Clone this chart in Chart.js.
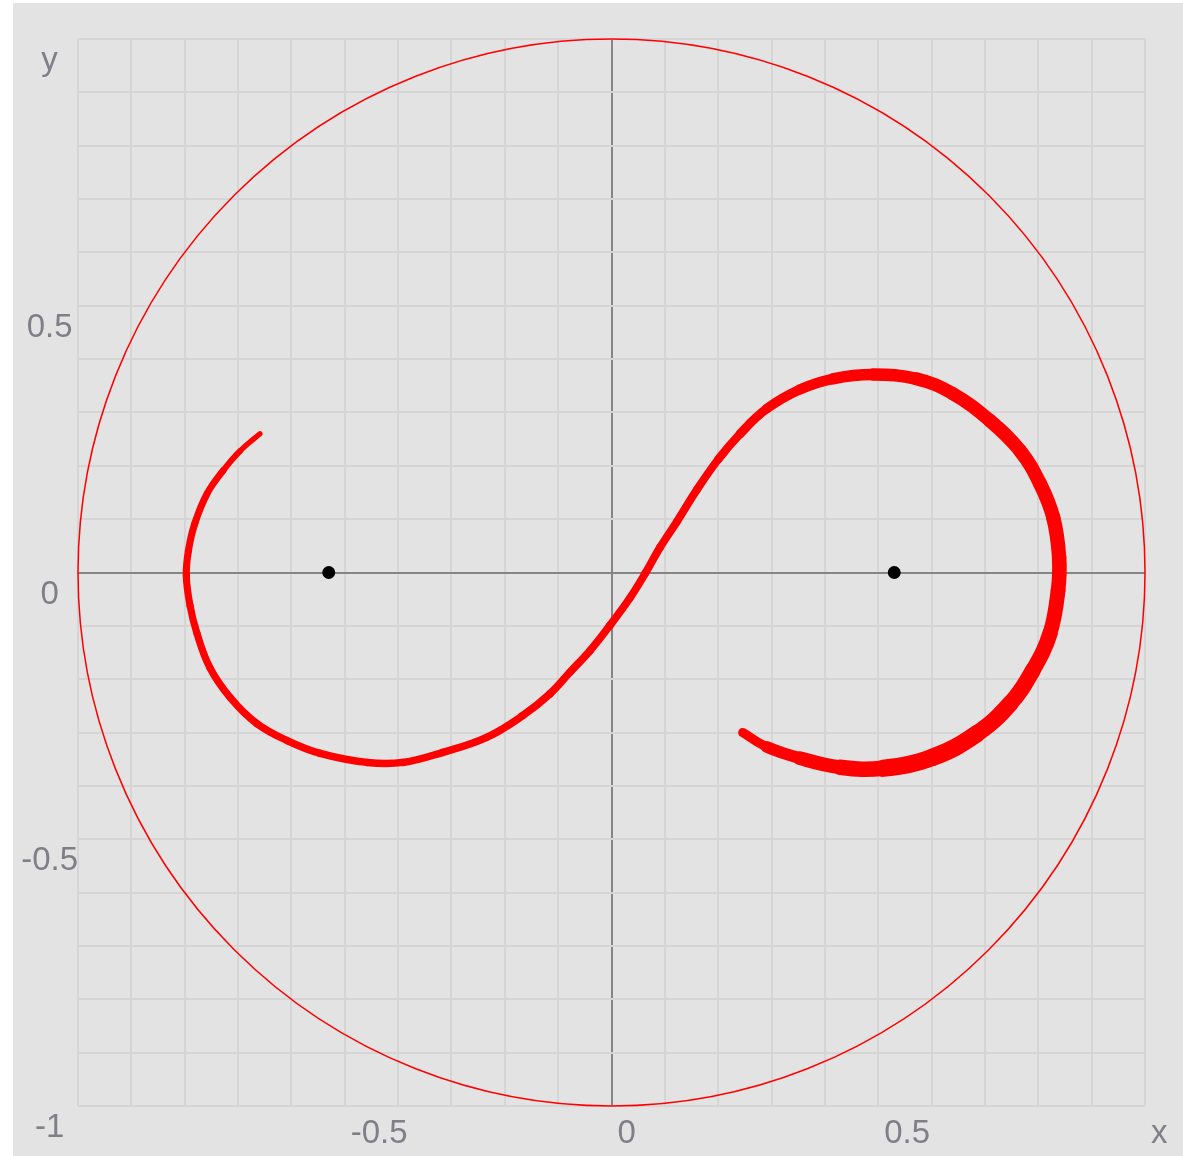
<!DOCTYPE html>
<html>
<head>
<meta charset="utf-8">
<script src="https://cdn.jsdelivr.net/npm/chart.js@4"></script>
<style>
  html, body { margin: 0; padding: 0; background: #ffffff; }
  #plot { position: absolute; left: 13px; top: 3px; background: #e3e3e3; }
</style>
</head>
<body>
<canvas id="plot" width="1170" height="1153"></canvas>
<script>
// streamline traced from the upper-left end, round both loops, to the lower-right end
const curveX = [-0.659, -0.696, -0.728, -0.758, -0.781, -0.793, -0.797, -0.790, -0.777, -0.753,
                -0.715, -0.665, -0.608, -0.546, -0.458, -0.391, -0.316, -0.234, -0.166, -0.115,
                -0.078, -0.040, -0.003, 0.035, 0.063, 0.091, 0.123, 0.160, 0.200, 0.241,
                0.291, 0.353, 0.415, 0.490, 0.572, 0.640, 0.709, 0.766, 0.803, 0.828,
                0.839, 0.837, 0.822, 0.790, 0.747, 0.685, 0.603, 0.509, 0.428, 0.353,
                0.291, 0.246];
const curveY = [0.260, 0.228, 0.191, 0.148, 0.092, 0.041, -0.006, -0.062, -0.114, -0.178,
                -0.234, -0.283, -0.315, -0.339, -0.356, -0.356, -0.337, -0.309, -0.268, -0.227,
                -0.187, -0.146, -0.099, -0.047, -0.002, 0.047, 0.096, 0.155, 0.212, 0.260,
                0.307, 0.343, 0.363, 0.371, 0.363, 0.335, 0.285, 0.228, 0.167, 0.103,
                0.028, -0.034, -0.114, -0.183, -0.246, -0.302, -0.346, -0.367, -0.365, -0.348,
                -0.327, -0.300];

// the two vortex centres
const vortexX = [-0.53, 0.53];
const vortexY = [0, 0];

// radius of the bounding circle
const boundaryRadius = 1;

const xTickValues = [-0.5, 0, 0.5, 1];
const xTickText = ['-0.5', '0', '0.5', 'x'];
const yTickValues = [-1, -0.5, 0, 0.5, 1];
const yTickText = ['-1', '-0.5', '0', '0.5', 'y'];

// stroke width along the curve (index, px)
const widthSteps = [[0, 5], [3, 7], [28, 8], [31, 10], [34, 13], [38, 14], [42, 15], [46, 18], [49, 13], [51, 8]];
function curveWidth(i) {
  for (let k = 1; k < widthSteps.length; k++) {
    const [i0, w0] = widthSteps[k - 1];
    const [i1, w1] = widthSteps[k];
    if (i <= i1) return w0 + (w1 - w0) * (i - i0) / (i1 - i0);
  }
  return widthSteps[widthSteps.length - 1][1];
}

function tickText(values, texts, v) {
  const idx = values.findIndex(t => Math.abs(t - v) < 1e-6);
  return idx >= 0 ? texts[idx] : '';
}

const boundaryCircle = {
  id: 'boundaryCircle',
  beforeDatasetsDraw(chart) {
    const xs = chart.scales.x, ys = chart.scales.y;
    const cx = xs.getPixelForValue(0), cy = ys.getPixelForValue(0);
    const r = xs.getPixelForValue(boundaryRadius) - cx;
    const ctx = chart.ctx;
    ctx.save();
    ctx.strokeStyle = '#ff0000';
    ctx.lineWidth = 1.5;
    ctx.beginPath();
    ctx.arc(cx, cy, r, 0, Math.PI * 2);
    ctx.stroke();
    ctx.restore();
  }
};

const labelFont = { family: "Arial, 'Liberation Sans', sans-serif", size: 33 };
const gridColor = ctx => (Math.abs(ctx.tick.value) < 1e-9 ? '#858585' : '#d5d5d5');

new Chart(document.getElementById('plot'), {
  type: 'scatter',
  data: {
    datasets: [
      {
        data: vortexX.map((x, i) => ({ x: x, y: vortexY[i] })),
        pointRadius: 5.5,
        pointBorderWidth: 2,
        pointBackgroundColor: '#000000',
        pointBorderColor: '#000000'
      },
      {
        data: curveX.map((x, i) => ({ x: x, y: curveY[i] })),
        showLine: true,
        pointRadius: 0,
        borderColor: '#ff0000',
        borderWidth: 7,
        tension: 0.4,
        borderCapStyle: 'round',
        borderJoinStyle: 'round',
        segment: {
          borderWidth: ctx => curveWidth(ctx.p0DataIndex + 0.5)
        }
      }
    ]
  },
  options: {
    responsive: false,
    animation: false,
    layout: { padding: { top: 36, right: 38, left: 0, bottom: 0 } },
    plugins: { legend: { display: false }, tooltip: { enabled: false } },
    scales: {
      x: {
        type: 'linear', min: -1, max: 1,
        afterFit: scale => { scale.height = 50; },
        border: { display: false },
        grid: { color: gridColor, lineWidth: 2, drawTicks: false },
        ticks: {
          stepSize: 0.1, autoSkip: false, maxRotation: 0,
          align: 'start', labelOffset: 6, padding: 8,
          color: '#7f7f88', font: labelFont,
          callback: v => tickText(xTickValues, xTickText, v)
        }
      },
      y: {
        type: 'linear', min: -1, max: 1,
        afterFit: scale => { scale.width = 65; },
        border: { display: false },
        grid: { color: gridColor, lineWidth: 2, drawTicks: false },
        ticks: {
          stepSize: 0.1, autoSkip: false,
          crossAlign: 'center', labelOffset: 22, padding: 0,
          color: '#7f7f88', font: labelFont,
          callback: v => tickText(yTickValues, yTickText, v)
        }
      }
    }
  },
  plugins: [boundaryCircle]
});
</script>
</body>
</html>
